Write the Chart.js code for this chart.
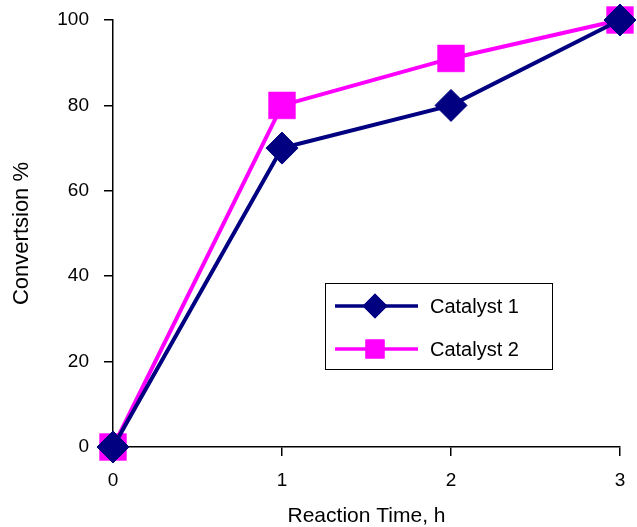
<!DOCTYPE html>
<html>
<head>
<meta charset="utf-8">
<script src="https://cdn.jsdelivr.net/npm/chart.js@4"></script>
<style>
  html, body { margin: 0; padding: 0; background: #fff; }
  #wrap { width: 637px; height: 527px; }
</style>
</head>
<body>
<div id="wrap"><canvas id="chart" width="637" height="527"></canvas></div>
<script>
// data
const times = [0, 1, 2, 3];
const catalyst1 = [0, 70, 80, 100];
const catalyst2 = [0, 80, 91, 100];
const seriesNames = ['Catalyst 1', 'Catalyst 2'];
const yTicks = [0, 20, 40, 60, 80, 100];
const xTicks = [0, 1, 2, 3];

const FONT = '"Liberation Sans", Arial, sans-serif';
const toPoints = vals => vals.map((v, i) => ({ x: times[i], y: v }));

// legend drawn as a boxed inset, like the original
const insetLegend = {
  id: 'insetLegend',
  afterDraw(chart) {
    const ctx = chart.ctx;
    const box = { x: 325.5, y: 283.5, w: 227, h: 86 };
    ctx.save();
    ctx.fillStyle = '#fff';
    ctx.fillRect(box.x, box.y, box.w, box.h);
    ctx.strokeStyle = '#000';
    ctx.lineWidth = 1;
    ctx.strokeRect(box.x, box.y, box.w, box.h);
    chart.data.datasets.forEach((ds, i) => {
      const y = 306 + i * 43;
      ctx.strokeStyle = ds.borderColor;
      ctx.lineWidth = 3.5;
      ctx.beginPath();
      ctx.moveTo(335, y);
      ctx.lineTo(418, y);
      ctx.stroke();
      Chart.helpers.drawPoint(ctx, { pointStyle: ds.pointStyle, radius: ds.legendRadius, borderWidth: 1 }, 375, y);
      ctx.fillStyle = ds.pointBackgroundColor;
      ctx.strokeStyle = ds.pointBorderColor;
      ctx.fill();
      ctx.stroke();
      ctx.fillStyle = '#000';
      ctx.font = '20px ' + FONT;
      ctx.textBaseline = 'middle';
      ctx.textAlign = 'left';
      ctx.fillText(ds.label, 430, y + 1);
    });
    ctx.restore();
  }
};

new Chart(document.getElementById('chart'), {
  type: 'line',
  data: {
    datasets: [
      {
        label: seriesNames[0], data: toPoints(catalyst1),
        borderColor: '#000080', backgroundColor: '#000080', borderWidth: 4,
        pointStyle: 'rectRot', pointRadius: 16, pointHoverRadius: 16,
        pointBackgroundColor: '#000080', pointBorderColor: '#000080', pointBorderWidth: 1,
        legendRadius: 10, tension: 0, clip: false
      },
      {
        label: seriesNames[1], data: toPoints(catalyst2),
        borderColor: '#ff00ff', backgroundColor: '#ff00ff', borderWidth: 4,
        pointStyle: 'rect', pointRadius: 19, pointHoverRadius: 19,
        pointBackgroundColor: '#ff00ff', pointBorderColor: '#ff00ff', pointBorderWidth: 0.5,
        legendRadius: 11, tension: 0, clip: false
      }
    ]
  },
  options: {
    responsive: false,
    animation: false,
    events: [],
    layout: { autoPadding: false, padding: { top: 20, right: 17, left: 0, bottom: 0 } },
    plugins: { legend: { display: false }, tooltip: { enabled: false } },
    scales: {
      x: {
        type: 'linear', min: 0, max: 3,
        afterBuildTicks: s => { s.ticks = xTicks.map(v => ({ value: v })); },
        afterFit: s => { s.height = 80; s.paddingLeft = 0; s.paddingRight = 0; },
        border: { color: '#000', width: 1.5 },
        grid: { drawOnChartArea: false, drawTicks: true, tickLength: 9, color: '#000', lineWidth: 1.5 },
        ticks: { color: '#000', padding: 13, font: { family: FONT, size: 19 } },
        title: { display: true, text: 'Reaction Time, h', color: '#000', padding: { top: 0, bottom: 0 }, font: { family: FONT, size: 21, lineHeight: 1 } }
      },
      y: {
        min: 0, max: 100,
        afterBuildTicks: s => { s.ticks = yTicks.map(v => ({ value: v })); },
        afterFit: s => { s.width = 113; s.paddingTop = 0; s.paddingBottom = 0; },
        border: { color: '#000', width: 1.5 },
        grid: { drawOnChartArea: false, drawTicks: true, tickLength: 9, color: '#000', lineWidth: 1.5 },
        ticks: { color: '#000', padding: 15, font: { family: FONT, size: 19 } },
        title: { display: true, text: 'Convertsion %', color: '#000', padding: { top: 9, bottom: 0 }, font: { family: FONT, size: 22 } }
      }
    }
  },
  plugins: [insetLegend]
});
</script>
</body>
</html>
